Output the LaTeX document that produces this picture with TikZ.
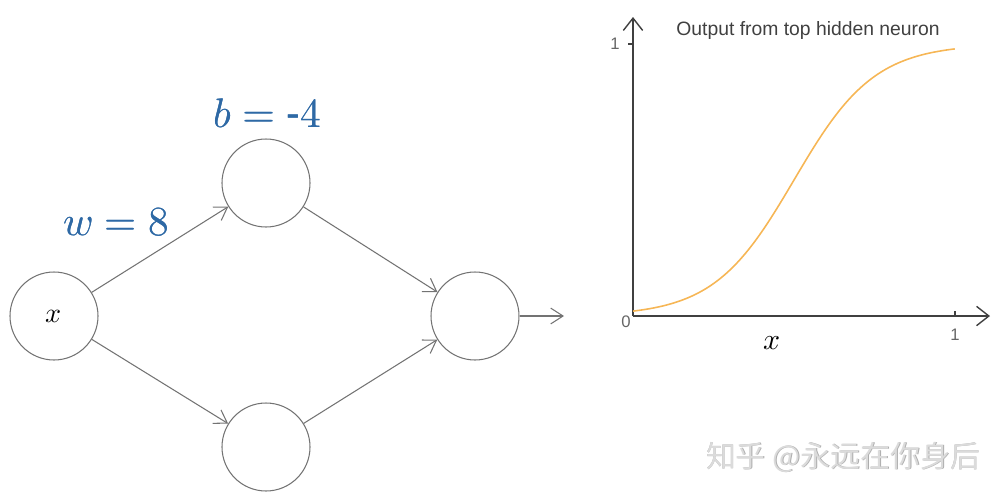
\documentclass[tikz,border=0pt]{standalone}
\usepackage{fontspec}
\usepackage{unicode-math}
\setmainfont{Liberation Sans}
\newfontfamily\cjk{Noto Sans CJK SC}
\usetikzlibrary{arrows.meta}
\definecolor{lbl}{RGB}{46,105,165}
\definecolor{ln}{RGB}{115,115,115}
\definecolor{curve}{RGB}{246,182,85}
\newlength{\pxu}
\setlength{\pxu}{0.02cm}
\tikzset{
  neuron/.style={circle,draw=ln,minimum size=88\pxu,inner sep=0pt,line width=0.6pt},
  conn/.style={draw=ln,line width=0.6pt,-{Straight Barb[length=7pt,width=9pt]}},
  axis/.style={draw=black!75,line width=0.8pt,-{Straight Barb[length=7pt,width=11pt]}},
  lab/.style={text=lbl,font=\fontsize{23.5}{25}\selectfont},
  tick/.style={font=\fontsize{9.5}{10}\selectfont,text=black!60},
  wmark/.style={font=\cjk\fontsize{17}{20}\selectfont},
}
\begin{document}
\begin{tikzpicture}[x=0.02cm,y=-0.02cm]
\useasboundingbox (0,0) rectangle (1005,498);
% network
\node[neuron] (in) at (54,316) {\fontsize{16}{18}\selectfont$x$};
\node[neuron] (h1) at (266,183) {};
\node[neuron] (h2) at (266,447) {};
\node[neuron] (out) at (475,316) {};
\coordinate (o) at (564,316);
\draw[conn] (in) -- (h1);
\draw[conn] (in) -- (h2);
\draw[conn] (h1) -- (out);
\draw[conn] (h2) -- (out);
\draw[conn] (out) -- (o);
\node[lab] (bl) at (267,113) {$b = \text{-}4$};
\node[lab] (bl2) at (267.5,113) {$b = \text{-}4$};
\node[lab] (wl) at (116,222) {$w = 8$};
\node[lab] (wl2) at (116.5,222) {$w = 8$};
% plot
\coordinate (O) at (633,316);
\coordinate (xe) at (990,316);
\coordinate (ye) at (633,17);
\draw[axis] (O) -- (xe);
\draw[axis] (O) -- (ye);
\draw[black!75,line width=0.6pt] (628,44) -- (633,44);
\draw[black!75,line width=0.6pt] (955,316) -- (955,311);
\node[tick] (y1) at (615,44) {1};
\node[tick] (x0) at (626,322) {0};
\node[tick] (x1) at (955,335) {1};
\node[font=\fontsize{17}{18}\selectfont] (xl) at (772,343) {$x$};
\node[font=\fontsize{11}{12}\selectfont,text=black!75] (title) at (808,30) {Output from top hidden neuron};
\draw[curve,line width=0.9pt,domain=0:1,samples=80,smooth]
  plot ({633+322*\x},{316-272/(1+exp(-(8*\x-4)))});
% watermark
\node[wmark,text=black!32] (wm1) at (843.8,457.8) {知乎 @永远在你身后};
\node[wmark,text=black!14] (wm2) at (843,457) {知乎 @永远在你身后};
\end{tikzpicture}
\end{document}
